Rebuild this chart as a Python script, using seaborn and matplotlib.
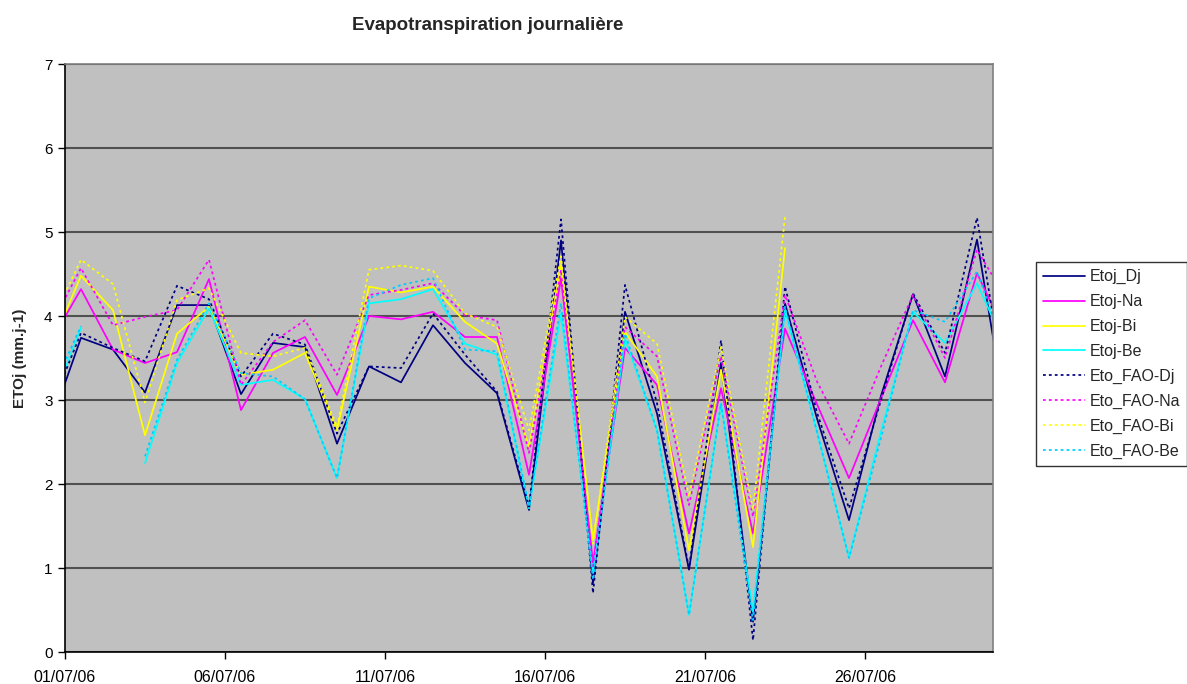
import numpy as np
import pandas as pd
import matplotlib
matplotlib.use("Agg")
import matplotlib.pyplot as plt
import matplotlib.dates as mdates
import seaborn as sns

# Daily values, one per day at midday, from 30/06/06 to 30/07/06
dates = pd.date_range("2006-06-30 12:00", "2006-07-30 12:00", freq="D")
nan = np.nan

etoj_dj = [2.66, 3.74, 3.60, 3.09, 4.13, 4.13, 3.07, 3.68, 3.63, 2.48, 3.40,
           3.21, 3.89, 3.44, 3.08, 1.69, 4.90, 0.82, 4.05, 2.84, 0.98, 3.44,
           0.36, 4.15, 2.78, 1.57, 3.05, 4.26, 3.28, 4.91, 2.59]
etoj_na = [3.66, 4.32, 3.60, 3.44, 3.57, 4.44, 2.88, 3.56, 3.75, 3.06, 4.00,
           3.96, 4.05, 3.75, 3.75, 2.11, 4.45, 1.06, 3.62, 3.18, 1.41, 3.14,
           1.41, 3.85, 2.95, 2.07, 3.02, 3.95, 3.21, 4.51, 3.71]
etoj_bi = [3.58, 4.48, 4.07, 2.58, 3.79, 4.11, 3.30, 3.36, 3.56, 2.64, 4.35,
           4.28, 4.35, 3.93, 3.67, 2.44, 4.61, 1.33, 3.81, 3.28, 1.21, 3.36,
           1.25, 4.81, nan, nan, nan, nan, nan, nan, nan]
etoj_be = [2.88, 3.86, nan, 2.25, 3.44, 4.09, 3.18, 3.24, 3.01, 2.07, 4.15,
           4.20, 4.32, 3.67, 3.54, 1.71, 4.03, 0.94, 3.73, 2.64, 0.44, 2.96,
           0.48, 4.07, 2.62, 1.12, 2.62, 4.05, 3.68, 4.39, 3.55]
eto_fao_dj = [2.85, 3.80, 3.62, 3.46, 4.36, 4.20, 3.28, 3.79, 3.66, 2.60, 3.40,
              3.38, 4.03, 3.54, 3.10, 1.73, 5.15, 0.70, 4.37, 2.96, 1.00, 3.71,
              0.14, 4.35, 2.85, 1.71, 3.00, 4.27, 3.56, 5.17, 2.83]
eto_fao_na = [3.85, 4.57, 3.89, 3.99, 4.07, 4.67, 3.18, 3.69, 3.95, 3.30, 4.25,
              4.31, 4.39, 4.01, 3.95, 2.37, 4.55, 1.02, 3.87, 3.52, 1.75, 3.52,
              1.61, 4.25, 3.22, 2.48, 3.40, 4.25, 3.50, 4.79, 4.15]
eto_fao_bi = [3.87, 4.67, 4.38, 2.97, 4.19, 4.33, 3.56, 3.52, 3.62, 2.68, 4.55,
              4.60, 4.54, 4.03, 3.87, 2.64, 4.71, 1.29, 3.99, 3.67, 1.85, 3.63,
              1.69, 5.18, nan, nan, nan, nan, nan, nan, nan]
eto_fao_be = [3.04, 3.88, nan, 2.33, 3.48, 4.15, 3.32, 3.28, 3.01, 2.07, 4.21,
              4.37, 4.45, 3.60, 3.58, 1.73, 4.15, 0.86, 3.79, 2.64, 0.44, 2.96,
              0.38, 4.11, 2.62, 1.12, 2.55, 4.07, 3.93, 4.53, 3.45]

series_names = ["Etoj_Dj", "Etoj-Na", "Etoj-Bi", "Etoj-Be",
                "Eto_FAO-Dj", "Eto_FAO-Na", "Eto_FAO-Bi", "Eto_FAO-Be"]
series_values = [etoj_dj, etoj_na, etoj_bi, etoj_be,
                 eto_fao_dj, eto_fao_na, eto_fao_bi, eto_fao_be]
colors = ["#000080", "#FF00FF", "#FFFF00", "#00FFFF",
          "#000080", "#FF00FF", "#FFFF00", "#00CCFF"]
dotted = [False, False, False, False, True, True, True, True]

y_ticks = list(range(0, 8))
x_tick_dates = pd.to_datetime(["2006-07-01", "2006-07-06", "2006-07-11",
                               "2006-07-16", "2006-07-21", "2006-07-26"])

sns.set_style("white")
plt.rcParams["font.family"] = ["Liberation Sans", "DejaVu Sans"]

W, H = 1187, 684
fig = plt.figure(figsize=(W / 100, H / 100), dpi=100)
fig.patch.set_facecolor("white")
ax = fig.add_axes([65 / W, 1 - 652 / H, (993 - 65) / W, (652 - 64) / H])
ax.set_facecolor("#C0C0C0")

for name, vals, col, dot in zip(series_names, series_values, colors, dotted):
    df = pd.DataFrame({"date": dates, "val": vals})
    # break the line where a day is missing
    df["seg"] = df["val"].isna().cumsum()
    df = df.dropna()
    first = True
    for _, seg in df.groupby("seg"):
        kw = dict(color=col, linewidth=1.25)
        if dot:
            kw["linestyle"] = (0, (1.6, 1.8))
        sns.lineplot(data=seg, x="date", y="val", ax=ax, estimator=None,
                     sort=False, label=name if first else None,
                     legend=False, **kw)
        first = False

ax.set_xlim(pd.Timestamp("2006-07-01"), pd.Timestamp("2006-07-30"))
ax.set_ylim(0, 7)
ax.set_yticks(y_ticks)
ax.set_xticks(x_tick_dates)
ax.xaxis.set_major_formatter(mdates.DateFormatter("%d/%m/%y"))
ax.yaxis.grid(True, color="#505050", linewidth=1.5)
ax.xaxis.grid(False)
ax.set_axisbelow(True)

for s in ["left", "bottom"]:
    ax.spines[s].set_color("black")
    ax.spines[s].set_linewidth(1.2)
for s in ["top", "right"]:
    ax.spines[s].set_color("#808080")
    ax.spines[s].set_linewidth(1.2)

ax.tick_params(axis="both", which="major", direction="out", length=5,
               width=1, color="black", labelcolor="black",
               left=True, bottom=True)
ax.tick_params(axis="x", pad=8, labelsize=11.5)
ax.tick_params(axis="y", pad=4, labelsize=11)

ax.set_xlabel("")
ax.set_ylabel("ETOj (mm.j-1)", fontsize=11, fontweight="bold")
ax.yaxis.set_label_coords(-38 / (993 - 65), 0.5)

fig.text(488 / W, 1 - 25 / H, "Evapotranspiration journalière",
         ha="center", va="center", fontsize=13.5, fontweight="bold")

handles, labels = ax.get_legend_handles_labels()
leg = fig.legend(handles, labels, loc="upper left",
                 bbox_to_anchor=(1036 / W, 1 - 262 / H),
                 frameon=True, fancybox=False, fontsize=11.5,
                 handlelength=2.6, handletextpad=0.3, labelspacing=0.62,
                 borderpad=0.45, borderaxespad=0)
leg.get_frame().set_edgecolor("black")
leg.get_frame().set_linewidth(1.0)

fig.savefig("out.png", dpi=100, facecolor="white")
